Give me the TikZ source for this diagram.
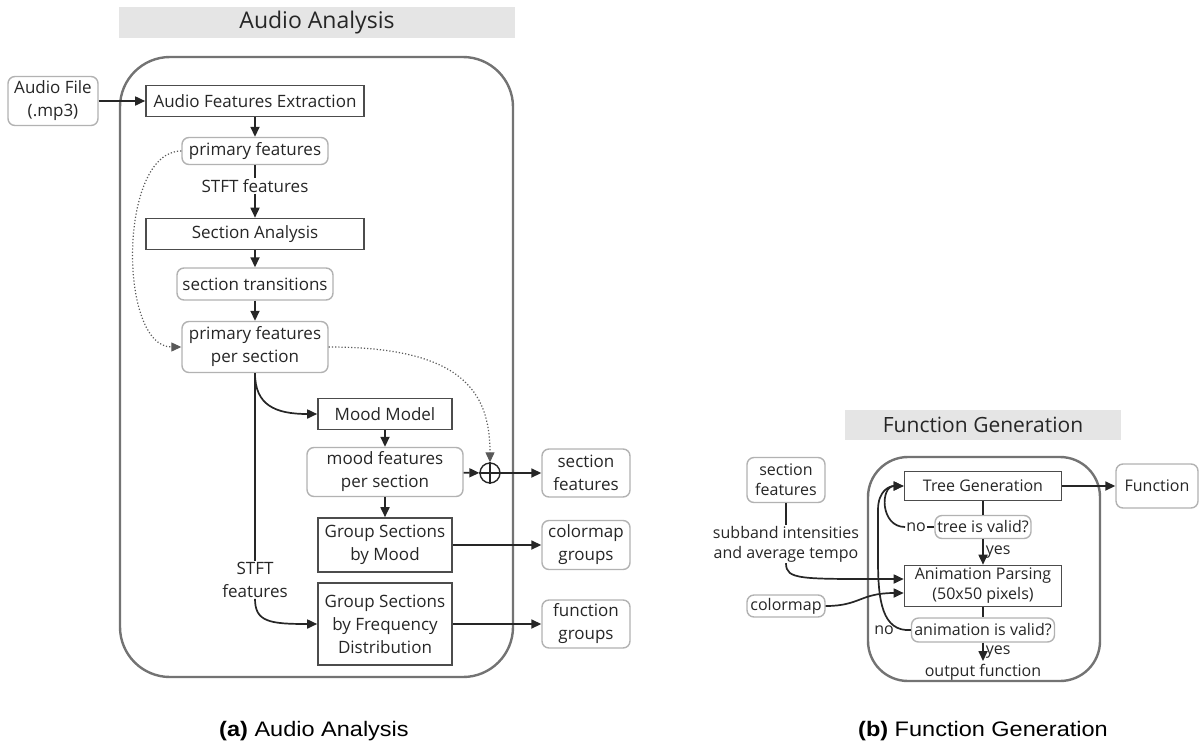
\documentclass[tikz,border=0pt]{standalone}
\usepackage{fontspec}
\setmainfont{Open Sans}
\newfontfamily\capfont[FakeStretch=1.12]{Liberation Sans}
\usetikzlibrary{arrows.meta,calc}
\tikzset{
  proc/.style={rectangle,draw=black!70,line width=1.6pt,fill=white,align=center,inner sep=0pt,text=black!85,font=\fontsize{17}{23}\selectfont},
  data/.style={rectangle,rounded corners=7pt,draw=black!30,line width=1.4pt,fill=white,align=center,inner sep=0pt,text=black!85,font=\fontsize{17}{23}\selectfont},
  lbl/.style={align=center,inner sep=1pt,text=black!85,font=\fontsize{17}{23}\selectfont},
  procR/.style={proc,font=\fontsize{16}{20}\selectfont},
  dataR/.style={data,font=\fontsize{16}{20}\selectfont},
  lblR/.style={lbl,font=\fontsize{16}{20}\selectfont},
  arr/.style={-{Triangle[length=10pt,width=9pt]},line width=1.7pt,black!85},
  ln/.style={line width=1.7pt,black!85},
  dot/.style={-{Triangle[length=10pt,width=9pt]},line width=1.2pt,black!65,dotted},
  band/.style={fill=black!10,draw=none},
  outer/.style={draw=black!55,line width=2.4pt},
  captxt/.style={anchor=base,font=\capfont\fontsize{21}{24}\selectfont}
}
\begin{document}
\begin{tikzpicture}[x=1pt,y=-1pt]
\useasboundingbox (0,0) rectangle (1199,745);
% ---------- left panel ----------
\fill[band] (119,7) rectangle (515,38);
\node[text=black!85,font=\fontsize{23}{26}\selectfont] (t1) at (317,23) {Audio Analysis};
\draw[outer,rounded corners=50pt] (120,57) rectangle (513,677);

\node[data,minimum width=90pt,minimum height=49pt] (af) at (53,101) {Audio File\\(.mp3)};
\node[proc,minimum width=218pt,minimum height=31pt] (afe) at (255,101) {Audio Features Extraction};
\node[data,minimum width=146pt,minimum height=27pt] (pf) at (255,151) {primary features};
\node[lbl] (stft1) at (255,186) {STFT features};
\node[proc,minimum width=218pt,minimum height=31pt] (sa) at (255,234) {Section Analysis};
\node[data,minimum width=156pt,minimum height=32pt] (st) at (255,284) {section transitions};
\node[data,minimum width=146pt,minimum height=51pt] (pfps) at (255,347) {primary features\\per section};
\node[proc,minimum width=134pt,minimum height=31pt] (mm) at (385,414) {Mood Model};
\node[data,minimum width=156pt,minimum height=49pt] (mfps) at (385,472) {mood features\\per section};
\node[circle,draw=black!85,line width=1.4pt,minimum size=20pt,inner sep=0pt] (op) at (490,473) {};
\draw[line width=1.4pt,black!85] (op.north) -- (op.south) (op.west) -- (op.east);
\node[data,minimum width=88pt,minimum height=48pt] (sf) at (586,473) {section\\features};
\node[proc,minimum width=134pt,minimum height=54pt] (gsm) at (385,545) {Group Sections\\by Mood};
\node[data,minimum width=88pt,minimum height=49pt] (cg) at (586,545) {colormap\\groups};
\node[lbl] (stft2) at (255,580) {STFT\\features};
\node[proc,minimum width=134pt,minimum height=82pt] (gsfd) at (385,624) {Group Sections\\by Frequency\\Distribution};
\node[data,minimum width=88pt,minimum height=48pt] (fg) at (586,624) {function\\groups};

\draw[arr] (af) -- (afe);
\draw[arr] (afe) -- (pf);
\draw[ln] (pf) -- (stft1);
\draw[arr] (stft1) -- (sa);
\draw[arr] (sa) -- (st);
\draw[arr] (st) -- (pfps);
\draw[dot] (pf.west) .. controls (118,151) and (118,347) .. (pfps.west);
\draw[dot] (pfps.east) .. controls (460,347) and (490,390) .. (op.north);
\draw[arr] (pfps.south) .. controls (255,405) and (275,414) .. (mm.west);
\draw[ln] (pfps.south) -- (stft2.north);
\draw[arr] (stft2.south) .. controls (255,622) and (270,624) .. (gsfd.west);
\draw[arr] (mm) -- (mfps);
\draw[arr] (mfps) -- (op);
\draw[arr] (op) -- (sf);
\draw[arr] (mfps) -- (gsm);
\draw[arr] (gsm) -- (cg);
\draw[arr] (gsfd) -- (fg);

% ---------- right panel ----------
\fill[band] (845,410) rectangle (1121,440);
\node[text=black!85,font=\fontsize{21}{24}\selectfont] (t2) at (983,425) {Function Generation};
\draw[outer,rounded corners=40pt] (868,457) rectangle (1100,681);

\node[procR,minimum width=157pt,minimum height=29pt] (tg) at (983,486) {Tree Generation};
\node[dataR,minimum width=82pt,minimum height=44pt] (fn) at (1157,486) {Function};
\node[dataR,minimum width=96pt,minimum height=23pt] (tv) at (983,527) {tree is valid?};
\node[lblR] (no1) at (916,527) {no};
\node[procR,minimum width=157pt,minimum height=41pt] (ap) at (983,586) {Animation Parsing\\(50x50 pixels)};
\node[dataR,minimum width=143pt,minimum height=24pt] (av) at (983,630) {animation is valid?};
\node[lblR] (no2) at (884,630) {no};
\node[lblR] (out) at (983,672) {output function};
\node[dataR,minimum width=78pt,minimum height=45pt] (sf2) at (786,480) {section\\features};
\node[lblR] (sub) at (786,544) {subband intensities\\and average tempo};
\node[dataR,minimum width=78pt,minimum height=22pt] (cm) at (786,606) {colormap};
\coordinate (ye) at (983,661);

\draw[arr] (tg) -- (fn);
\draw[ln] (tg) -- (tv);
\draw[ln] (no1) -- (tv);
\draw[arr] (tv) -- node[lblR,right,inner sep=2pt] {yes} (ap);
\draw[ln] (ap) -- (av);
\draw[arr] (av) -- node[lblR,right,inner sep=2pt] {yes} (ye);
\draw[arr] (no1.west) .. controls (880,527) and (880,486) .. (tg.west);
\draw[arr] (av.west) .. controls (882,632) and (878,600) .. (878,560) -- (878,510) .. controls (878,490) and (890,486) .. (tg.west);
\draw[ln] (sf2) -- (sub);
\draw[arr] (sub.south) .. controls (786,580) and (800,579) .. ($(ap.west)+(0,-7)$);
\draw[arr] (cm.east) .. controls (860,606) and (860,593) .. ($(ap.west)+(0,7)$);

% ---------- captions ----------
\node[captxt] (c1) at (314,736) {\textbf{(a)} Audio Analysis};
\node[captxt] (c2) at (983,736) {\textbf{(b)} Function Generation};
\end{tikzpicture}
\end{document}
